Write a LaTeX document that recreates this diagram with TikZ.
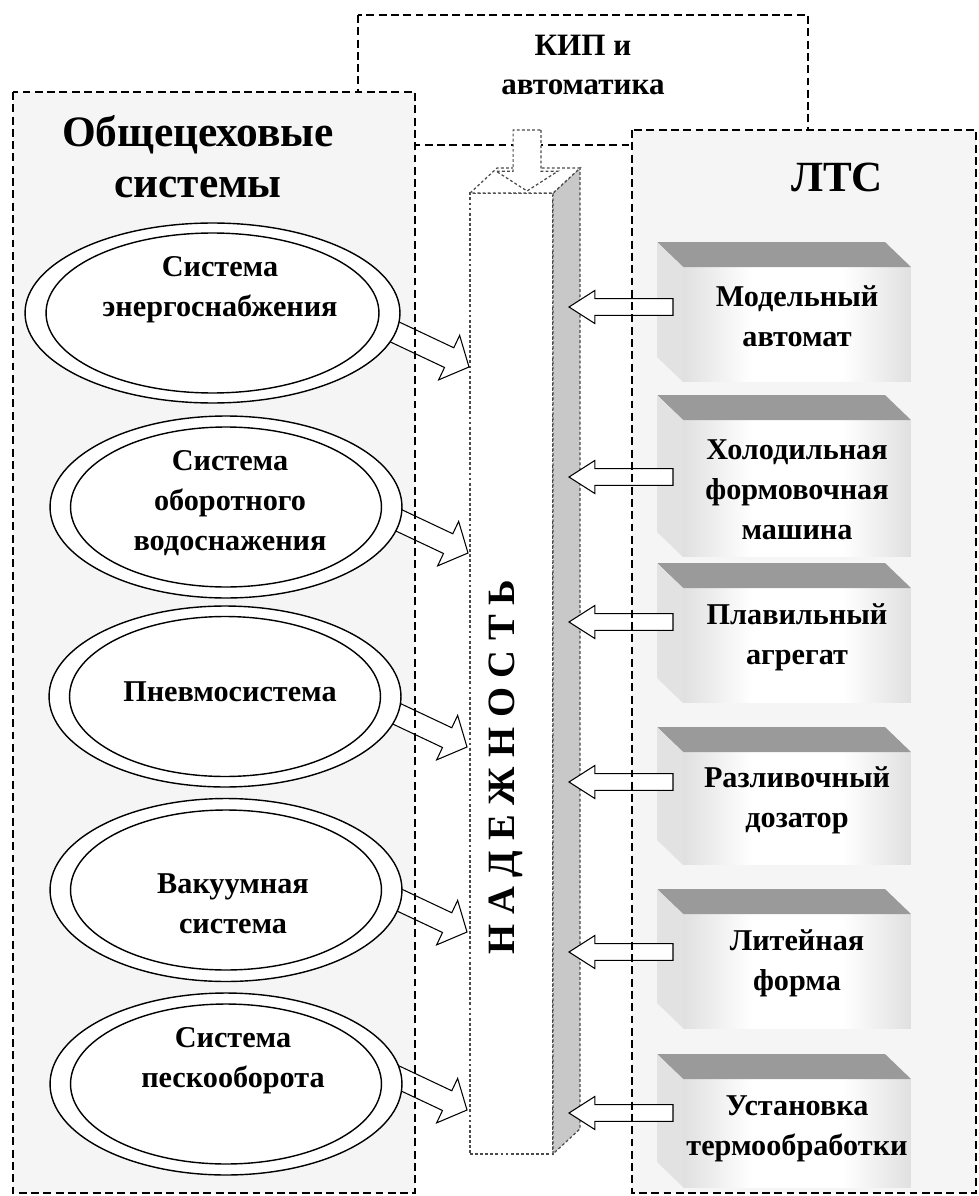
\documentclass[tikz,border=0pt]{standalone}
\usepackage{fontspec}
\setmainfont{Liberation Serif}
\usetikzlibrary{shapes.geometric,calc}
\definecolor{panel}{HTML}{F5F5F5}
\definecolor{topface}{HTML}{9A9A9A}
\definecolor{leftface}{HTML}{E2E2E2}
\definecolor{sideface}{HTML}{C8C8C8}
\definecolor{shadeedge}{HTML}{E0E0E0}
\definecolor{dotline}{HTML}{4A4A4A}
\pgfdeclarehorizontalshading{faceshade}{100bp}{color(0bp)=(shadeedge); color(25bp)=(shadeedge); color(40bp)=(white); color(60bp)=(white); color(75bp)=(shadeedge); color(100bp)=(shadeedge)}
\newcommand{\hollowarrow}[6][]{%
  \coordinate (hN) at ($(#3)!#6!(#2)$);
  \draw[arrowline,#1] ($(#2)!#4!90:(#3)$) -- ($(hN)!#4!90:(#3)$) -- ($(hN)!#5!90:(#3)$) -- (#3)
     -- ($(hN)!#5!-90:(#3)$) -- ($(hN)!#4!-90:(#3)$) -- ($(#2)!#4!-90:(#3)$) -- cycle;
}
\newcommand{\labfont}{\fontsize{17.2}{22.7}\selectfont\bfseries}
\newcommand{\boxtop}[1]{%
  \fill[topface] (#1.north west) -- +(-26,-25) -- ($(#1.north east)+(-26,-25)$) -- (#1.north east) -- cycle;
  \fill[leftface] (#1.north west) -- +(-26,-25) -- ($(#1.south west)+(-26,-25)$) -- (#1.south west) -- cycle;
}
\begin{document}
\begin{tikzpicture}[x=0.02cm, y=-0.02cm,
  frame/.style={draw=black, line width=1.1pt, dash pattern=on 4.5pt off 2.5pt},
  colline/.style={draw=dotline, line width=0.7pt, dash pattern=on 1.6pt off 1.3pt},
  arrowline/.style={draw=black, line width=0.6pt, fill=white, line join=miter},
  outerring/.style={ellipse, draw=black, line width=0.8pt, fill=white, inner sep=0pt, outer sep=0pt},
  innerring/.style={ellipse, draw=black, line width=0.8pt, fill=white, inner sep=0pt, outer sep=0pt, minimum height=3.2cm},
  face/.style={rectangle, inner sep=0pt, outer sep=0pt, minimum width=4.56cm, shading=faceshade},
  lab/.style={font=\labfont, align=center, inner sep=0pt},
  title/.style={font=\fontsize{24.7}{29}\selectfont\bfseries, align=center, inner sep=0pt}
]
\useasboundingbox (0,0) rectangle (979,1196);
\fill[white] (0,0) rectangle (979,1196);

% frames
\path[frame, fill=white] (358,15) rectangle (808,145);
\path[fill=panel] (13,92) rectangle (415,1193);
\path[fill=panel] (632,130) rectangle (976,1193);

% column
\node[rectangle, colline, fill=white, inner sep=0pt, outer sep=0pt, minimum width=1.66cm, minimum height=19.22cm] (col) at (511.5,673.5) {};
\path[colline, fill=sideface] (col.north east) -- +(27,-25) -- ($(col.south east)+(27,-25)$) -- (col.south east) -- cycle;
\path[colline, fill=white] (col.north west) -- +(27,-25) -- ($(col.north east)+(27,-25)$) -- (col.north east) -- cycle;
\node[font=\fontsize{22}{26}\selectfont\bfseries, rotate=90, inner sep=0pt] (nad) at (506,767) {Н А Д Е Ж Н О С Т Ь};

% left arrows tips and tails
\coordinate (l1) at (469,367);  \coordinate (s1) at (380,325);
\coordinate (l2) at (468,553);  \coordinate (s2) at (379,511);
\coordinate (l3) at (467,747);  \coordinate (s3) at (378,705);
\coordinate (l4) at (467,932);  \coordinate (s4) at (378,890);
\coordinate (l5) at (467,1110); \coordinate (s5) at (378,1068);
\foreach \i in {1,...,5} {\hollowarrow{s\i}{l\i}{6.2pt}{14pt}{12.5pt}}

% ellipses
\node[outerring, minimum width=7.5cm, minimum height=3.6cm] (e1) at (212.5,313) {};
\node[innerring, minimum width=6.66cm] (e1i) at (212.5,313) {};
\node[outerring, minimum width=7.04cm, minimum height=3.64cm] (e2) at (226,507) {};
\node[innerring, minimum width=6.22cm] (e2i) at (226,507) {};
\node[outerring, minimum width=7.04cm, minimum height=3.62cm] (e3) at (225,696.5) {};
\node[innerring, minimum width=6.22cm] (e3i) at (225,696.5) {};
\node[outerring, minimum width=7.04cm, minimum height=3.66cm] (e4) at (226,890) {};
\node[innerring, minimum width=6.22cm] (e4i) at (226,890) {};
\node[outerring, minimum width=7.04cm, minimum height=3.64cm] (e5) at (226,1084) {};
\node[innerring, minimum width=6.22cm] (e5i) at (226,1084) {};

\node[lab] (e1t) at (220,290) {Система\\энергоснабжения};
\node[lab] (e2t) at (230,503) {Система\\оборотного\\водоснажения};
\node[lab] (e3t) at (230,692) {Пневмосистема};
\node[lab] (e4t) at (233,904) {Вакуумная\\система};
\node[lab] (e5t) at (233,1061) {Система\\пескооборота};

% 3D boxes
\node[face, minimum height=2.30cm] (b1) at (797,324.5) {};
\node[face, minimum height=2.74cm] (b2) at (797,488.5) {};
\node[face, minimum height=2.30cm] (b3) at (797,645.5) {};
\node[face, minimum height=2.26cm] (b4) at (797,808.5) {};
\node[face, minimum height=2.28cm] (b5) at (797,971) {};
\node[face, minimum height=2.16cm] (b6) at (797,1133) {};
\foreach \b in {b1,b2,b3,b4,b5,b6} {\boxtop{\b}}

\node[lab] (b1t) at (797,316) {Модельный\\автомат};
\node[lab] (b2t) at (797,490) {Холодильная\\формовочная\\машина};
\node[lab] (b3t) at (797,637) {Плавильный\\агрегат};
\node[lab] (b4t) at (797,800) {Разливочный\\дозатор};
\node[lab] (b5t) at (797,963) {Литейная\\форма};
\node[lab] (b6t) at (797,1129) {Установка\\термообработки};

% right arrows
\coordinate (r1) at (673,307);  \coordinate (q1) at (569,307);
\coordinate (r2) at (673,477);  \coordinate (q2) at (569,477);
\coordinate (r3) at (673,622);  \coordinate (q3) at (569,622);
\coordinate (r4) at (673,782);  \coordinate (q4) at (569,782);
\coordinate (r5) at (673,952);  \coordinate (q5) at (569,952);
\coordinate (r6) at (673,1113); \coordinate (q6) at (569,1113);
\foreach \i in {1,...,6} {\hollowarrow{r\i}{q\i}{4.8pt}{9.4pt}{14.7pt}}

% KIP arrow
\coordinate (kipout) at (527,130);
\coordinate (colin) at (527,191);
\hollowarrow[colline]{kipout}{colin}{7.9pt}{17.6pt}{11.3pt}

% frame strokes on top
\draw[frame] (13,92) rectangle (415,1193);
\draw[frame] (632,130) rectangle (976,1193);

% titles
\node[title] (ttl) at (198,157) {Общецеховые\\системы};
\node[font=\fontsize{24.5}{29}\selectfont\bfseries, inner sep=0pt] (tlts) at (837,177) {ЛТС};
\node[font=\fontsize{17.7}{22.7}\selectfont\bfseries, align=center, inner sep=0pt] (tkip) at (583,65) {КИП и\\автоматика};
\end{tikzpicture}
\end{document}
